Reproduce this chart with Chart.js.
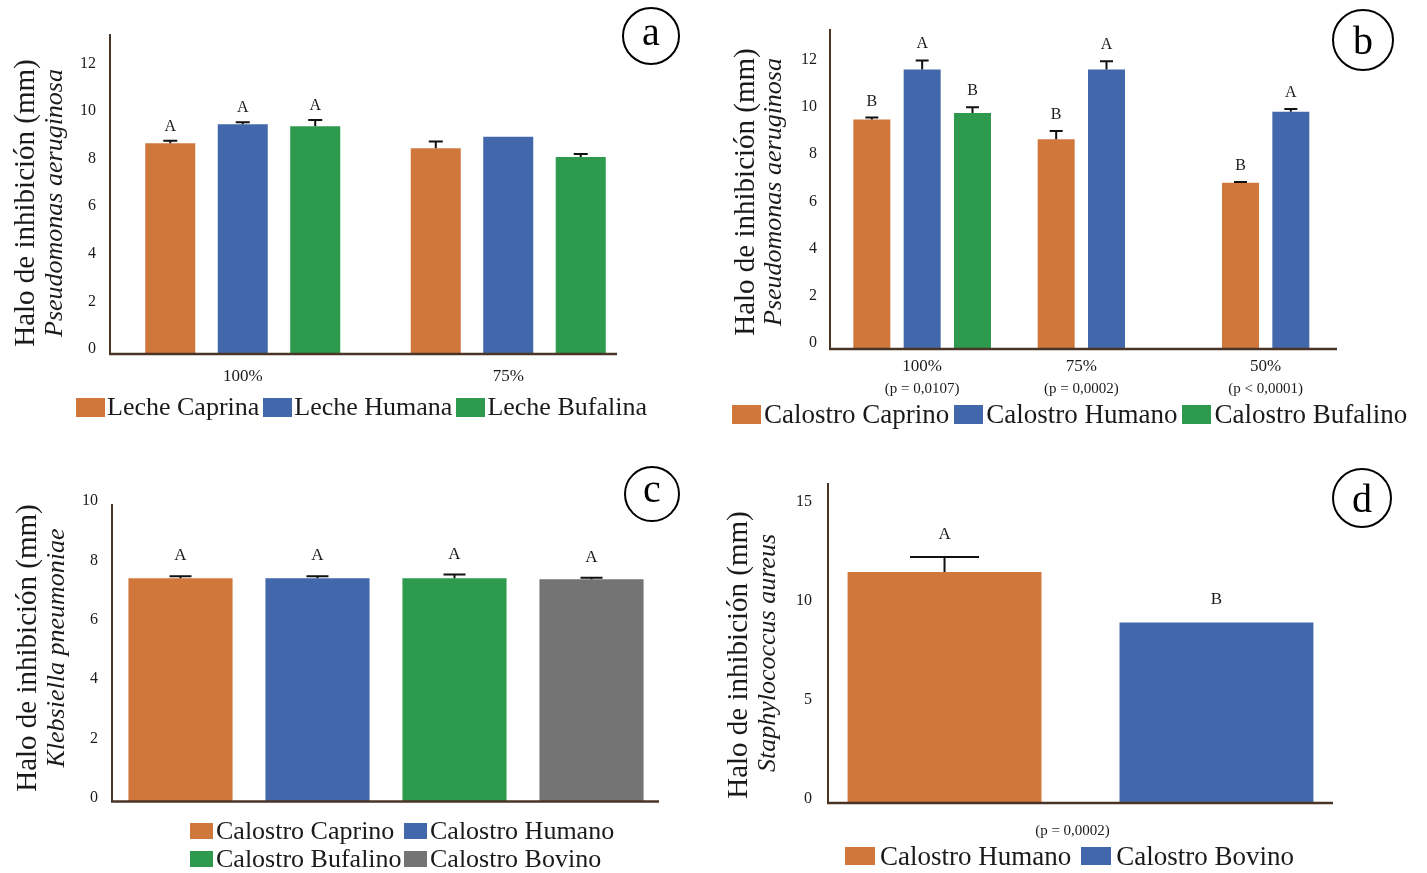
<!DOCTYPE html>
<html lang="es">
<head>
<meta charset="utf-8">
<title>Halo de inhibición</title>
<script src="https://cdn.jsdelivr.net/npm/chart.js@4.4.1/dist/chart.umd.min.js"></script>
<style>
  html, body { margin: 0; padding: 0; background: #fff; }
  body { width: 1427px; height: 873px; position: relative; overflow: hidden;
         font-family: 'Liberation Serif', 'Times New Roman', serif; color: #1a1a1a; }
  canvas { position: absolute; }
  .legend { position: absolute; display: flex; align-items: center; white-space: nowrap; }
  .legend .item { display: flex; align-items: center; }
  .legend .sw { display: inline-block; flex: none; }
</style>
</head>
<body>
<canvas id="chartA" width="713" height="437" style="left:0;top:0"></canvas>
<canvas id="chartB" width="714" height="437" style="left:713px;top:0"></canvas>
<canvas id="chartC" width="713" height="436" style="left:0;top:437px"></canvas>
<canvas id="chartD" width="714" height="436" style="left:713px;top:437px"></canvas>
<div id="legendA" class="legend"></div>
<div id="legendB" class="legend"></div>
<div id="legendC" class="legend"></div>
<div id="legendD" class="legend"></div>

<script>
// --- Datos (mm) ---
// a) Leche vs Pseudomonas aeruginosa
const catA = ['100%', '75%'];
const lecheCaprina = [8.86, 8.65];
const lecheCaprinaErr = [0.1, 0.28];
const lecheHumana = [9.66, 9.13];
const lecheHumanaErr = [0.08, 0];
const lecheBufalina = [9.57, 8.28];
const lecheBufalinaErr = [0.27, 0.13];
const letrasCaprinaA = ['A', ''];
const letrasHumanaA = ['A', ''];
const letrasBufalinaA = ['A', ''];
const ticksA = [0, 2, 4, 6, 8, 10, 12];

// b) Calostro vs Pseudomonas aeruginosa
const catB = ['100%', '75%', '50%'];
const pValB = ['(p = 0,0107)', '(p = 0,0002)', '(p < 0,0001)'];
const calCaprinoB = [9.73, 8.89, 7.05];
const calCaprinoBErr = [0.08, 0.35, 0.03];
const calHumanoB = [11.85, 11.85, 10.06];
const calHumanoBErr = [0.38, 0.35, 0.11];
const calBufalinoB = [10.0, null, null];
const calBufalinoBErr = [0.25, null, null];
const letrasCaprinoB = ['B', 'B', 'B'];
const letrasHumanoB = ['A', 'A', 'A'];
const letrasBufalinoB = ['B', '', ''];
const ticksB = [0, 2, 4, 6, 8, 10, 12];

// c) Calostro vs Klebsiella pneumoniae
const catC = [''];
const calCaprinoC = [7.52];
const calCaprinoCErr = [0.06];
const calHumanoC = [7.52];
const calHumanoCErr = [0.06];
const calBufalinoC = [7.52];
const calBufalinoCErr = [0.12];
const calBovinoC = [7.48];
const calBovinoCErr = [0.05];
const ticksC = [0, 2, 4, 6, 8, 10];

// d) Calostro vs Staphylococcus aureus
const catD = ['(p = 0,0002)'];
const calHumanoD = [11.64];
const calHumanoDErr = [0.76];
const calBovinoD = [9.1];
const calBovinoDErr = [0];
const ticksD = [0, 5, 10, 15];

// --- Estilo ---
const ORANGE = '#D0773C', BLUE = '#4268AB', GREEN = '#2E9A4E', GRAY = '#747474';
const AXIS = '#4A3426', INK = '#1a1a1a';
const SERIF = "'Liberation Serif', 'Times New Roman', serif";
Chart.defaults.font.family = SERIF;
Chart.defaults.color = INK;

// Dibuja eje x, barras de error, letras, títulos del eje y y la letra del panel
function decor(cfg) {
  return {
    id: 'decor',
    afterDatasetsDraw(chart) {
      const { ctx, chartArea: area } = chart;
      const y = chart.scales.y;
      ctx.save();
      ctx.strokeStyle = AXIS;
      ctx.lineWidth = 2.5;
      ctx.beginPath();
      ctx.moveTo(area.left - 1, area.bottom);
      ctx.lineTo(cfg.axisEnd - cfg.ox, area.bottom);
      ctx.stroke();

      chart.data.datasets.forEach((ds, i) => {
        chart.getDatasetMeta(i).data.forEach((bar, j) => {
          const v = ds.data[j];
          if (v == null) return;
          const e = ds.err[j] || 0;
          const top = y.getPixelForValue(v + e);
          if (e > 0) {
            ctx.strokeStyle = '#111';
            ctx.lineWidth = 2;
            ctx.beginPath();
            ctx.moveTo(bar.x, bar.y);
            ctx.lineTo(bar.x, top);
            ctx.moveTo(bar.x - cfg.cap / 2, top);
            ctx.lineTo(bar.x + cfg.cap / 2, top);
            ctx.stroke();
          }
          if (ds.letters && ds.letters[j]) {
            ctx.fillStyle = INK;
            ctx.font = cfg.letterFont + 'px ' + SERIF;
            ctx.textAlign = 'center';
            ctx.textBaseline = 'alphabetic';
            ctx.fillText(ds.letters[j], bar.x, top - cfg.letterGap);
          }
        });
      });

      // etiquetas centradas bajo las barras presentes (panel b)
      if (cfg.barLabels) {
        chart.data.labels.forEach((lab, j) => {
          const xs = [];
          chart.data.datasets.forEach((ds, i) => {
            if (ds.data[j] != null) xs.push(chart.getDatasetMeta(i).data[j].x);
          });
          const cx = xs.reduce((s, x) => s + x, 0) / xs.length;
          ctx.fillStyle = INK;
          ctx.textAlign = 'center';
          ctx.textBaseline = 'middle';
          ctx.font = '17px ' + SERIF;
          ctx.fillText(lab, cx, area.bottom + cfg.barLabels.gap1);
          ctx.font = '15px ' + SERIF;
          ctx.fillText(cfg.barLabels.sub[j], cx, area.bottom + cfg.barLabels.gap2);
        });
      }

      // títulos del eje y (rotados)
      ctx.fillStyle = INK;
      ctx.textAlign = 'center';
      ctx.textBaseline = 'alphabetic';
      cfg.titles.forEach(t => {
        ctx.save();
        ctx.translate(t.x - cfg.ox, t.y - cfg.oy);
        ctx.rotate(-Math.PI / 2);
        ctx.font = t.font + ' ' + SERIF;
        ctx.fillText(t.text, 0, 0);
        ctx.restore();
      });

      // letra del panel en círculo
      const c = cfg.circle;
      ctx.strokeStyle = '#000';
      ctx.lineWidth = 2;
      ctx.beginPath();
      ctx.arc(c.x - cfg.ox, c.y - cfg.oy, c.r, 0, Math.PI * 2);
      ctx.stroke();
      ctx.font = '40px ' + SERIF;
      ctx.fillStyle = '#000';
      ctx.fillText(c.letter, c.x - cfg.ox, c.y - cfg.oy + c.base);
      ctx.restore();
    }
  };
}

function makePanel(cfg, labels, series) {
  const canvas = document.getElementById(cfg.id);
  const W = canvas.width, H = canvas.height;
  const [l, t, r, b] = cfg.area;
  const yW = l - cfg.ox;          // ancho reservado al eje y
  const xH = cfg.oy + H - b;      // alto reservado al eje x
  return new Chart(canvas, {
    type: 'bar',
    data: {
      labels: labels,
      datasets: series.map(s => ({
        label: s.label,
        data: s.data,
        err: s.err,
        letters: s.letters,
        backgroundColor: s.color,
        borderWidth: 0,
        categoryPercentage: cfg.catPct,
        barPercentage: cfg.barPct
      }))
    },
    options: {
      responsive: false,
      animation: false,
      layout: { padding: { left: 0, top: t - cfg.oy, right: cfg.ox + W - r, bottom: 0 } },
      plugins: { legend: { display: false }, tooltip: { enabled: false } },
      scales: {
        x: {
          grid: { display: false, drawTicks: false },
          border: { display: false },
          ticks: { display: cfg.xTicks, font: { size: cfg.xFont }, padding: cfg.xPad,
                   labelOffset: cfg.xShift || 0, maxRotation: 0, autoSkip: false },
          afterFit: s => { s.height = xH; }
        },
        y: {
          min: 0,
          max: cfg.yMax,
          grid: { display: false, drawTicks: false },
          border: { display: true, color: AXIS, width: 2 },
          ticks: { font: { size: 16 }, padding: cfg.yPad, labelOffset: cfg.yShift },
          afterBuildTicks: s => { s.ticks = cfg.yTicks.map(v => ({ value: v })); },
          afterFit: s => { s.width = yW; }
        }
      }
    },
    plugins: [decor(cfg)]
  });
}

function buildLegend(chart, lg) {
  const box = document.getElementById(lg.id);
  box.style.left = lg.left + 'px';
  box.style.top = lg.top + 'px';
  box.style.fontSize = lg.font + 'px';
  box.style.lineHeight = lg.row + 'px';
  if (lg.cols) {
    box.style.display = 'grid';
    box.style.gridTemplateColumns = lg.cols;
  }
  chart.data.datasets.forEach(ds => {
    const item = document.createElement('div');
    item.className = 'item';
    item.style.marginRight = lg.gap + 'px';
    const sw = document.createElement('span');
    sw.className = 'sw';
    sw.style.width = lg.sw[0] + 'px';
    sw.style.height = lg.sw[1] + 'px';
    sw.style.background = ds.backgroundColor;
    sw.style.marginRight = lg.textGap + 'px';
    const tx = document.createElement('span');
    tx.textContent = ds.label;
    item.appendChild(sw);
    item.appendChild(tx);
    box.appendChild(item);
  });
}

// --- Panel a ---
const chartA = makePanel({
  id: 'chartA', ox: 0, oy: 0, area: [110, 35, 641, 354], axisEnd: 617,
  catPct: 0.819, barPct: 0.69, yMax: 13.41, yTicks: ticksA, yPad: 14, yShift: -5,
  xTicks: true, xFont: 17, xPad: 12,
  cap: 14, letterFont: 16, letterGap: 10,
  titles: [
    { text: 'Halo de inhibición (mm)', x: 33.5, y: 203, font: '29px' },
    { text: 'Pseudomonas aeruginosa', x: 62, y: 203, font: 'italic 26px' }
  ],
  circle: { x: 651, y: 36, r: 28, letter: 'a', base: 9 }
}, catA, [
  { label: 'Leche Caprina', data: lecheCaprina, err: lecheCaprinaErr, letters: letrasCaprinaA, color: ORANGE },
  { label: 'Leche Humana', data: lecheHumana, err: lecheHumanaErr, letters: letrasHumanaA, color: BLUE },
  { label: 'Leche Bufalina', data: lecheBufalina, err: lecheBufalinaErr, letters: letrasBufalinaA, color: GREEN }
]);
buildLegend(chartA, { id: 'legendA', left: 76, top: 393, row: 28, font: 26, sw: [29, 19], textGap: 2, gap: 4 });

// --- Panel b ---
const chartB = makePanel({
  id: 'chartB', ox: 713, oy: 0, area: [830, 30, 1383, 349], axisEnd: 1337,
  catPct: 0.819, barPct: 0.735, yMax: 13.52, yTicks: ticksB, yPad: 13, yShift: -6,
  xTicks: false, xFont: 17, xPad: 12,
  barLabels: { sub: pValB, gap1: 18, gap2: 40 },
  cap: 13, letterFont: 16, letterGap: 12,
  titles: [
    { text: 'Halo de inhibición (mm)', x: 753.5, y: 192, font: '29px' },
    { text: 'Pseudomonas aeruginosa', x: 781, y: 192, font: 'italic 26px' }
  ],
  circle: { x: 1363, y: 40, r: 30, letter: 'b', base: 14 }
}, catB, [
  { label: 'Calostro Caprino', data: calCaprinoB, err: calCaprinoBErr, letters: letrasCaprinoB, color: ORANGE },
  { label: 'Calostro Humano', data: calHumanoB, err: calHumanoBErr, letters: letrasHumanoB, color: BLUE },
  { label: 'Calostro Bufalino', data: calBufalinoB, err: calBufalinoBErr, letters: letrasBufalinoB, color: GREEN }
]);
buildLegend(chartB, { id: 'legendB', left: 732, top: 400, row: 28, font: 27, sw: [29, 19], textGap: 3, gap: 5 });

// --- Panel c ---
const chartC = makePanel({
  id: 'chartC', ox: 0, oy: 437, area: [112, 504.5, 660, 801.5], axisEnd: 659,
  catPct: 1.0, barPct: 0.76, yMax: 10, yTicks: ticksC, yPad: 14, yShift: -3.5,
  xTicks: false, xFont: 15, xPad: 12,
  cap: 22, letterFont: 17, letterGap: 16,
  titles: [
    { text: 'Halo de inhibición (mm)', x: 35.5, y: 648, font: '29px' },
    { text: 'Klebsiella pneumoniae', x: 64, y: 648, font: 'italic 26px' }
  ],
  circle: { x: 652, y: 494, r: 27, letter: 'c', base: 8 }
}, catC, [
  { label: 'Calostro Caprino', data: calCaprinoC, err: calCaprinoCErr, letters: ['A'], color: ORANGE },
  { label: 'Calostro Humano', data: calHumanoC, err: calHumanoCErr, letters: ['A'], color: BLUE },
  { label: 'Calostro Bufalino', data: calBufalinoC, err: calBufalinoCErr, letters: ['A'], color: GREEN },
  { label: 'Calostro Bovino', data: calBovinoC, err: calBovinoCErr, letters: ['A'], color: GRAY }
]);
buildLegend(chartC, { id: 'legendC', left: 190, top: 817, row: 28, font: 26, sw: [23, 16], textGap: 3, gap: 0, cols: '214px auto' });

// --- Panel d ---
const chartD = makePanel({
  id: 'chartD', ox: 713, oy: 437, area: [828, 483.5, 1333, 803], axisEnd: 1333,
  catPct: 1.077, barPct: 0.713, yMax: 16.1, yTicks: ticksD, yPad: 16, yShift: -4,
  xTicks: true, xFont: 15, xPad: 19, xShift: -8,
  cap: 69, letterFont: 17, letterGap: 18,
  titles: [
    { text: 'Halo de inhibición (mm)', x: 746.5, y: 655, font: '29px' },
    { text: 'Staphylococcus aureus', x: 775, y: 653, font: 'italic 26px' }
  ],
  circle: { x: 1362, y: 498, r: 29, letter: 'd', base: 14 }
}, catD, [
  { label: 'Calostro Humano', data: calHumanoD, err: calHumanoDErr, letters: ['A'], color: ORANGE },
  { label: 'Calostro Bovino', data: calBovinoD, err: calBovinoDErr, letters: ['B'], color: BLUE }
]);
buildLegend(chartD, { id: 'legendD', left: 845, top: 842, row: 28, font: 27, sw: [30, 18], textGap: 5, gap: 10 });
</script>
</body>
</html>
